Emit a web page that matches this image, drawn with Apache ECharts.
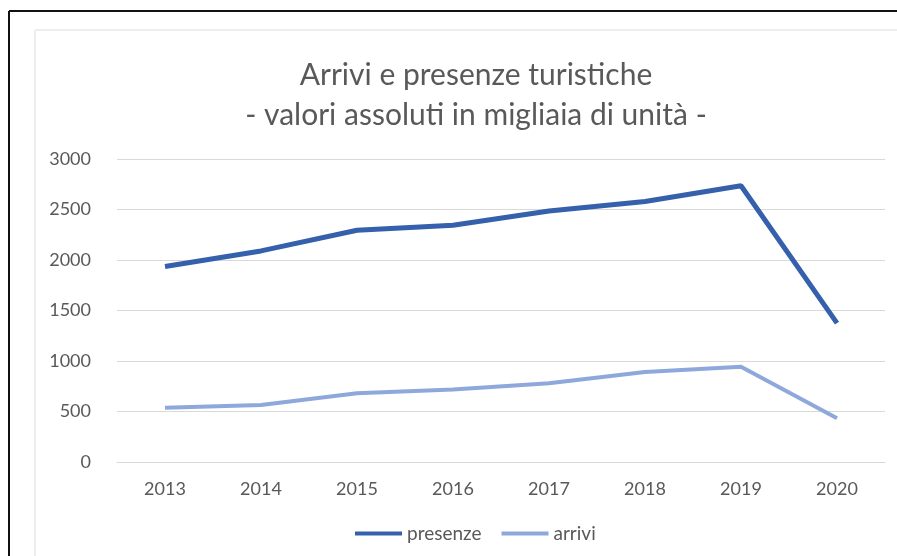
<!DOCTYPE html>
<html>
<head>
<meta charset="utf-8">
<script src="https://cdn.jsdelivr.net/npm/echarts@6/dist/echarts.min.js"></script>
<style>
    html, body { margin: 0; padding: 0; background: #fff; overflow: hidden; }
    #chart { width: 897px; height: 556px; }
</style>
</head>
<body>
<div id="chart"></div>
<script>
const years = ['2013', '2014', '2015', '2016', '2017', '2018', '2019', '2020'];
const presenze = [1935, 2090, 2295, 2345, 2485, 2580, 2735, 1375];
const arrivi = [538, 565, 680, 718, 780, 892, 944, 433];
const titleLines = ['Arrivi e presenze turistiche', '- valori assoluti in migliaia di unità -'];

const chart = echarts.init(document.getElementById('chart'));
chart.setOption({
    backgroundColor: '#fff',
    textStyle: { fontFamily: 'Lato' },
    // page frame + chart area frame
    graphic: [
        { type: 'line', shape: { x1: 9, y1: 11, x2: 897, y2: 11 }, style: { stroke: '#111', lineWidth: 2 } },
        { type: 'line', shape: { x1: 9, y1: 11, x2: 9, y2: 556 }, style: { stroke: '#111', lineWidth: 2 } },
        { type: 'line', shape: { x1: 35, y1: 30, x2: 897, y2: 30 }, style: { stroke: '#eeeeee', lineWidth: 2 } },
        { type: 'line', shape: { x1: 35, y1: 30, x2: 35, y2: 556 }, style: { stroke: '#eeeeee', lineWidth: 2 } }
    ],
    title: {
        text: titleLines.join('\n'),
        left: 471,
        top: 50,
        textAlign: 'center',
        textStyle: {
            fontFamily: 'Lato',
            fontSize: 30,
            fontWeight: 'normal',
            color: '#595959',
            lineHeight: 40
        }
    },
    legend: {
        bottom: 8,
        left: 350,
        icon: 'rect',
        itemWidth: 47,
        itemHeight: 4,
        itemGap: 20,
        textStyle: { fontSize: 19, color: '#595959', fontFamily: 'Lato' },
        data: ['presenze', 'arrivi']
    },
    grid: {
        left: 117,
        right: 12,
        top: 159,
        bottom: 94
    },
    xAxis: {
        type: 'category',
        data: years,
        boundaryGap: true,
        axisLine: { lineStyle: { color: '#d9d9d9' } },
        axisTick: { show: false },
        axisLabel: { color: '#595959', fontSize: 18, margin: 18 }
    },
    yAxis: {
        type: 'value',
        min: 0,
        max: 3000,
        interval: 500,
        axisLine: { show: false },
        axisTick: { show: false },
        axisLabel: { color: '#595959', fontSize: 18, margin: 26, formatter: v => String(v) },
        splitLine: { lineStyle: { color: '#d9d9d9', width: 1 } }
    },
    series: [{
        name: 'presenze',
        type: 'line',
        data: presenze,
        symbol: 'none',
        lineStyle: { color: '#3560ab', width: 5 },
        itemStyle: { color: '#3560ab' }
    }, {
        name: 'arrivi',
        type: 'line',
        data: arrivi,
        symbol: 'none',
        lineStyle: { color: '#8ea8dc', width: 4 },
        itemStyle: { color: '#8ea8dc' }
    }]
});
</script>
</body>
</html>
